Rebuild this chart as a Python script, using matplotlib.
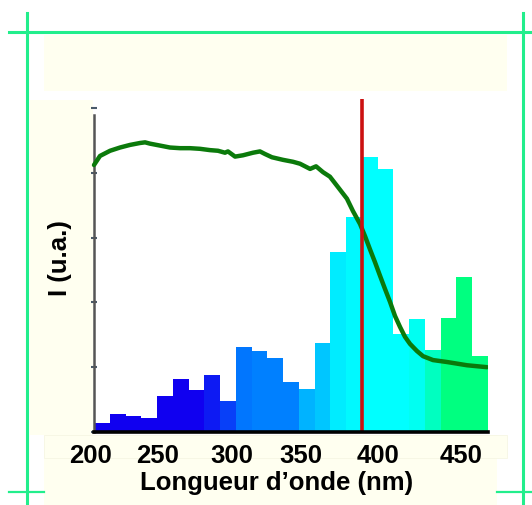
import matplotlib
matplotlib.use('Agg')
import matplotlib.pyplot as plt
from matplotlib.patches import Rectangle
from matplotlib.lines import Line2D
from matplotlib.colors import to_rgb

# ---------------- data ----------------
bar_left_nm = [200, 210, 220, 230, 240, 250, 260, 270, 280, 290, 300, 310, 320,
               330, 340, 350, 360, 370, 380, 390, 400, 410, 420, 430, 440]
bar_heights = [0.14, 0.28, 0.25, 0.22, 0.56, 0.82, 0.65, 0.88, 0.48, 1.31, 1.25,
               1.14, 0.77, 0.66, 1.37, 2.78, 3.32, 4.24, 4.06, 1.51, 1.74, 1.27,
               1.76, 2.39, 1.17]

curve_nm = [200, 203.8, 210.2, 216.5, 222.8, 229.2, 232.4, 235.5, 241.9, 248.2,
            254.6, 260.9, 267.3, 273.6, 278.7, 283.1, 285.0, 289.5, 294.5, 300.9,
            305.3, 308.5, 312.9, 319.9, 326.3, 330.7, 337.1, 340.9, 345.3, 349.7,
            354.8, 360.5, 364.3, 368.8, 372.0, 375.1, 378.3, 381.5, 384.6, 387.8,
            391.0, 394.2, 397.3, 400.5, 404.9, 408.8, 415.1, 424.0, 436.7, 449.4]
curve_val = [4.12, 4.26, 4.34, 4.39, 4.43, 4.46, 4.47, 4.45, 4.42, 4.39,
             4.38, 4.38, 4.37, 4.35, 4.34, 4.31, 4.33, 4.25, 4.27, 4.31,
             4.33, 4.29, 4.24, 4.20, 4.17, 4.14, 4.06, 4.10, 4.01, 3.94,
             3.78, 3.60, 3.41, 3.21, 3.02, 2.82, 2.62, 2.41, 2.21, 2.01,
             1.79, 1.62, 1.47, 1.36, 1.25, 1.17, 1.11, 1.08, 1.03, 1.00]

cutoff_nm = 370
xtick_pos = [197.8, 240.6, 287.6, 331.3, 380.2, 432.9]
xtick_labels = ['200', '250', '300', '350', '400', '450']
ytick_pos = [0, 1, 2, 3, 4, 5]
xlabel = 'Longueur d\u2019onde (nm)'
ylabel = 'I (u.a.)'

# ---------------- style ----------------
W, H = 532, 506
FONT = 'Liberation Sans'
BLUE, AZURE, CYAN, GREEN = '#1000F0', '#0080FF', '#00FFFF', '#00FF80'

def mix(c1, c2, t):
    a, b = to_rgb(c1), to_rgb(c2)
    return tuple(a[i] * (1 - t) + b[i] * t for i in range(3))

bar_colors = [BLUE] * 7 + [mix(BLUE, AZURE, 0.2), mix(BLUE, AZURE, 0.5),
              mix(BLUE, AZURE, 0.92), AZURE, AZURE, AZURE,
              mix(AZURE, CYAN, 0.4), mix(AZURE, CYAN, 0.55), mix(AZURE, CYAN, 0.85),
              mix(AZURE, CYAN, 0.95), CYAN, CYAN, CYAN, mix(CYAN, GREEN, 0.1),
              mix(CYAN, GREEN, 0.5), GREEN, GREEN, GREEN]

fig = plt.figure(figsize=(W / 100, H / 100), dpi=100)
fig.patch.set_facecolor('white')

def fx(px):
    return px / W

def fy(py):
    return 1 - py / H

def frect(x0, y0, x1, y1, **kw):
    r = Rectangle((fx(x0), fy(y1)), fx(x1) - fx(x0), fy(y0) - fy(y1),
                  transform=fig.transFigure, zorder=-2, **kw)
    fig.add_artist(r)

IVORY = '#FFFFF0'
frect(44, 36, 507, 92, facecolor=IVORY, edgecolor='none')
frect(30, 101, 93, 436, facecolor=IVORY, edgecolor='none')
frect(44, 436, 497, 506, facecolor=IVORY, edgecolor='none')
frect(44, 436, 507, 459, facecolor=IVORY, edgecolor='#F6F6E4', linewidth=0.6)

LG = '#22EE8C'
def fline(xs, ys, **kw):
    fig.add_artist(Line2D([fx(x) for x in xs], [fy(y) for y in ys],
                          transform=fig.transFigure, zorder=-1, **kw))

fline([27, 27], [14, 506], color=LG, lw=2.2)
fline([523, 523], [14, 506], color=LG, lw=2.2)
fline([9, 532], [33, 33], color=LG, lw=2.2)
fline([9, 44], [493, 493], color=LG, lw=1.6)
fline([497, 532], [493, 493], color=LG, lw=1.6)

# axes: 200 nm -> px 94, 450 nm -> px 488
scale = (488 - 94) / 250.0
left_px = 94 - 4 * scale
ax = fig.add_axes([fx(left_px), fy(433), fx(488) - fx(left_px), fy(109) - fy(433)])
ax.patch.set_visible(False)
ax.set_xlim(196, 450)
ax.set_ylim(0, 5)

ax.bar(bar_left_nm, bar_heights, width=10, align='edge', color=bar_colors,
       linewidth=0, zorder=2)
ax.plot(curve_nm, curve_val, color='#0B7A0B', lw=3.2, solid_capstyle='round',
        solid_joinstyle='round', zorder=3)
ax.plot([cutoff_nm, cutoff_nm], [0, 5.14], color='#CC1010', lw=2.6,
        solid_capstyle='butt', clip_on=False, zorder=4)

for s in ('top', 'right'):
    ax.spines[s].set_visible(False)
ax.spines['bottom'].set_bounds(200, 450)
ax.spines['bottom'].set_linewidth(2.6)
ax.spines['bottom'].set_color('black')
ax.spines['bottom'].set_zorder(5)
ax.spines['left'].set_position(('data', 200))
ax.spines['left'].set_bounds(0, 4.89)
ax.spines['left'].set_color('#555555')
ax.spines['left'].set_linewidth(1.8)

ax.set_yticks(ytick_pos)
ax.set_yticklabels([])
ax.tick_params(axis='y', direction='inout', length=5, width=1.5, color='#4A5A6A')
ax.set_xticks(xtick_pos)
ax.set_xticklabels(xtick_labels, fontsize=18.5, fontweight='bold', family=FONT)
ax.tick_params(axis='x', length=0, pad=8)

fig.text(fx(277), fy(483), xlabel, ha='center', va='center', fontsize=18.5,
         fontweight='bold', family=FONT)
fig.text(fx(60), fy(258), ylabel, ha='center', va='center', rotation=90,
         fontsize=18.5, fontweight='bold', family=FONT)

fig.savefig('out.png', dpi=100, facecolor=fig.get_facecolor())
